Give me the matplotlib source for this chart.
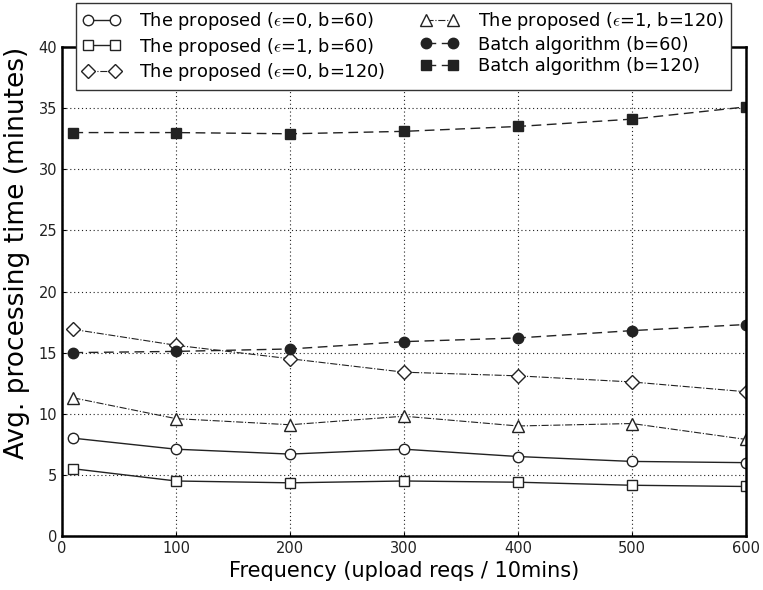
import matplotlib
matplotlib.use("Agg")
import matplotlib.pyplot as plt

plt.rcParams['mathtext.fontset'] = 'cm'

freq = [10, 100, 200, 300, 400, 500, 600]
prop_e0_b60 = [8.0, 7.1, 6.7, 7.1, 6.5, 6.1, 6.0]
prop_e1_b60 = [5.5, 4.5, 4.35, 4.5, 4.4, 4.15, 4.05]
prop_e0_b120 = [16.9, 15.6, 14.5, 13.4, 13.1, 12.6, 11.8]
prop_e1_b120 = [11.3, 9.6, 9.1, 9.8, 9.0, 9.2, 7.9]
batch_b60 = [15.0, 15.1, 15.3, 15.9, 16.2, 16.8, 17.3]
batch_b120 = [33.0, 33.0, 32.9, 33.1, 33.5, 34.1, 35.1]

labels = [
    r"The proposed ($\epsilon$=0, b=60)",
    r"The proposed ($\epsilon$=1, b=60)",
    r"The proposed ($\epsilon$=0, b=120)",
    r"The proposed ($\epsilon$=1, b=120)",
    "Batch algorithm (b=60)",
    "Batch algorithm (b=120)",
]

fig = plt.figure(figsize=(7.63, 5.90), dpi=100)
ax = fig.add_axes([62 / 763, 1 - 536 / 590, 684 / 763, 489 / 590])

c = "#222222"
ms = 7.5
ax.plot(freq, prop_e0_b60, '-', marker='o', color=c, mfc='white', mec=c, ms=ms, lw=1.0, label=labels[0])
ax.plot(freq, prop_e1_b60, '-', marker='s', color=c, mfc='white', mec=c, ms=7, lw=1.0, label=labels[1])
ax.plot(freq, prop_e0_b120, '-.', marker='D', color=c, mfc='white', mec=c, ms=7, lw=0.8, label=labels[2])
ax.plot(freq, prop_e1_b120, '-.', marker='^', color=c, mfc='white', mec=c, ms=8, lw=0.8, label=labels[3])
ax.plot(freq, batch_b60, '--', marker='o', color=c, mfc=c, mec=c, ms=ms, lw=1.0, dashes=(7, 4), label=labels[4])
ax.plot(freq, batch_b120, '--', marker='s', color=c, mfc=c, mec=c, ms=7.5, lw=1.0, dashes=(7, 4), label=labels[5])

ax.set_xlim(0, 600)
ax.set_ylim(0, 40)
ax.set_xticks(range(0, 601, 100))
ax.set_yticks(range(0, 41, 5))
ax.tick_params(labelsize=10.5, direction='in', length=3, labelcolor='#222222')
ax.grid(True, linestyle=(0, (1, 2.5)), color='#222222', lw=0.8)
for s in ax.spines.values():
    s.set_linewidth(1.8)
ax.set_xlabel("Frequency (upload reqs / 10mins)", fontsize=15, labelpad=4)
ax.set_ylabel("Avg. processing time (minutes)", fontsize=19)
ax.yaxis.set_label_coords(-0.047, 0.58)

handles, labs = ax.get_legend_handles_labels()
leg = ax.legend(handles, labs, ncol=2, loc='upper left', mode='expand',
                bbox_to_anchor=(0.020, 0.80, 0.958, 0.29),
                fontsize=12.75, frameon=True, fancybox=False, edgecolor='#333333',
                handlelength=2.1, numpoints=2, borderpad=0.4, labelspacing=0.2,
                columnspacing=1.0, handletextpad=1.1, framealpha=1, borderaxespad=0)
leg.get_frame().set_linewidth(1.0)
leg.set_zorder(10)

fig.savefig("out.png", dpi=100)
